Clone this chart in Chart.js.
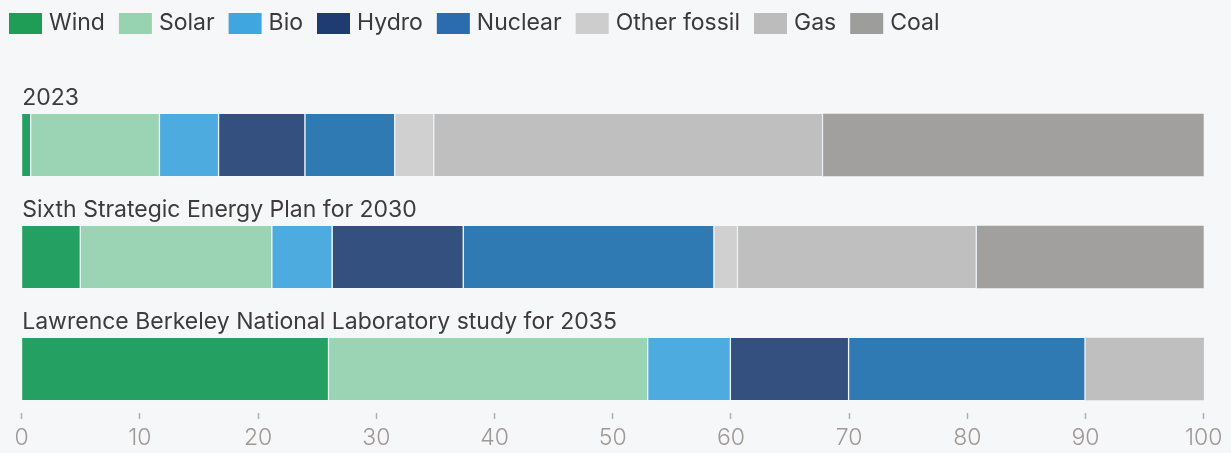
<!DOCTYPE html>
<html>
<head>
<meta charset="utf-8">
<script src="https://cdn.jsdelivr.net/npm/chart.js@4.4.0/dist/chart.umd.min.js"></script>
<style>
  html, body { margin: 0; padding: 0; background: #f5f7f8; }
  #wrap { width: 1231px; height: 453px; }
</style>
</head>
<body>
<div id="wrap"><canvas id="mixChart"></canvas></div>
<script>
// generation mix by source, % of total
var scenarios = ["2023", "Sixth Strategic Energy Plan for 2030", "Lawrence Berkeley National Laboratory study for 2035"];
var sources = ["Wind", "Solar", "Bio", "Hydro", "Nuclear", "Other fossil", "Gas", "Coal"];
var wind        = [0.8, 5.0, 26.0];
var solar       = [10.9, 16.2, 27.0];
var bio         = [5.0, 5.1, 7.0];
var hydro       = [7.3, 11.1, 10.0];
var nuclear     = [7.6, 21.2, 20.0];
var otherFossil = [3.3, 2.0, 0];
var gas         = [32.9, 20.2, 10.0];
var coal        = [32.2, 19.2, 0];
var xTicks = [0, 10, 20, 30, 40, 50, 60, 70, 80, 90, 100];

var series = [wind, solar, bio, hydro, nuclear, otherFossil, gas, coal];
var colors = ["#23a062", "#9bd3b5", "#4eabe0", "#33507e", "#2f7ab3", "#d0d0d0", "#bfbfbf", "#a1a09e"];
// legend swatches are a bit deeper than the bars
var keyColors = ["#1f9c56", "#97d3b1", "#40a6e0", "#1e3c6f", "#2a6cad", "#cdcdcd", "#bcbcbc", "#9d9d9c"];
var fontFamily = "Inter, 'Noto Sans', sans-serif";

// thin light gap after every segment except the last one in a bar
function segBorder(ctx) {
  var i = ctx.dataIndex;
  var later = series.slice(ctx.datasetIndex + 1).some(function (s) { return s[i] > 0; });
  return { top: 0, right: later ? 1.5 : 0, bottom: 0, left: 0 };
}

var datasets = series.map(function (vals, k) {
  return {
    label: sources[k],
    data: vals.map(function (v, i) { return { x: v, y: i }; }),
    backgroundColor: colors[k],
    borderColor: "rgba(236,241,245,0.9)",
    borderWidth: segBorder,
    borderSkipped: false,
    barThickness: 62
  };
});

// legend row across the top
var legendRow = {
  id: "legendRow",
  afterDraw: function (chart) {
    var ctx = chart.ctx;
    ctx.save();
    ctx.font = "23px " + fontFamily;
    ctx.textBaseline = "alphabetic";
    var x = 9;
    chart.data.datasets.forEach(function (ds, k) {
      ctx.fillStyle = keyColors[k];
      ctx.fillRect(x, 13, 33, 21);
      ctx.fillStyle = "#3b3939";
      ctx.fillText(ds.label, x + 40, 29.5);
      x += 40 + ctx.measureText(ds.label).width + 14;
    });
    ctx.restore();
  }
};

// scenario name written above each bar
var barTitles = {
  id: "barTitles",
  afterDatasetsDraw: function (chart) {
    var ctx = chart.ctx;
    var xs = chart.scales.x, ys = chart.scales.y;
    ctx.save();
    ctx.font = "23px " + fontFamily;
    ctx.fillStyle = "#3e3b3a";
    ctx.textBaseline = "alphabetic";
    scenarios.forEach(function (name, i) {
      ctx.fillText(name, xs.getPixelForValue(0) + 0.5, ys.getPixelForValue(i) - 39.5);
    });
    ctx.restore();
  }
};

new Chart("mixChart", {
  type: "bar",
  data: { datasets: datasets },
  plugins: [legendRow, barTitles],
  options: {
    indexAxis: "y",
    responsive: true,
    maintainAspectRatio: false,
    animation: false,
    devicePixelRatio: 1,
    layout: { padding: { top: 89, left: 21.7, right: 27.3, bottom: 0 } },
    plugins: {
      legend: { display: false },
      tooltip: { enabled: false }
    },
    scales: {
      x: {
        stacked: true,
        min: 0,
        max: 100,
        afterBuildTicks: function (s) { s.ticks = xTicks.map(function (v) { return { value: v }; }); },
        afterFit: function (s) { s.height = 40; },
        border: { display: false },
        grid: { drawOnChartArea: false, drawTicks: true, tickLength: 6, tickColor: "#b3adab", tickWidth: 1.5 },
        ticks: { color: "#a09894", padding: 5, font: { family: fontFamily, size: 23, weight: "300" } }
      },
      y: {
        type: "linear",
        stacked: true,
        reverse: true,
        offset: false,
        min: -0.5,
        max: 2.393,
        display: false
      }
    }
  }
});
</script>
</body>
</html>
